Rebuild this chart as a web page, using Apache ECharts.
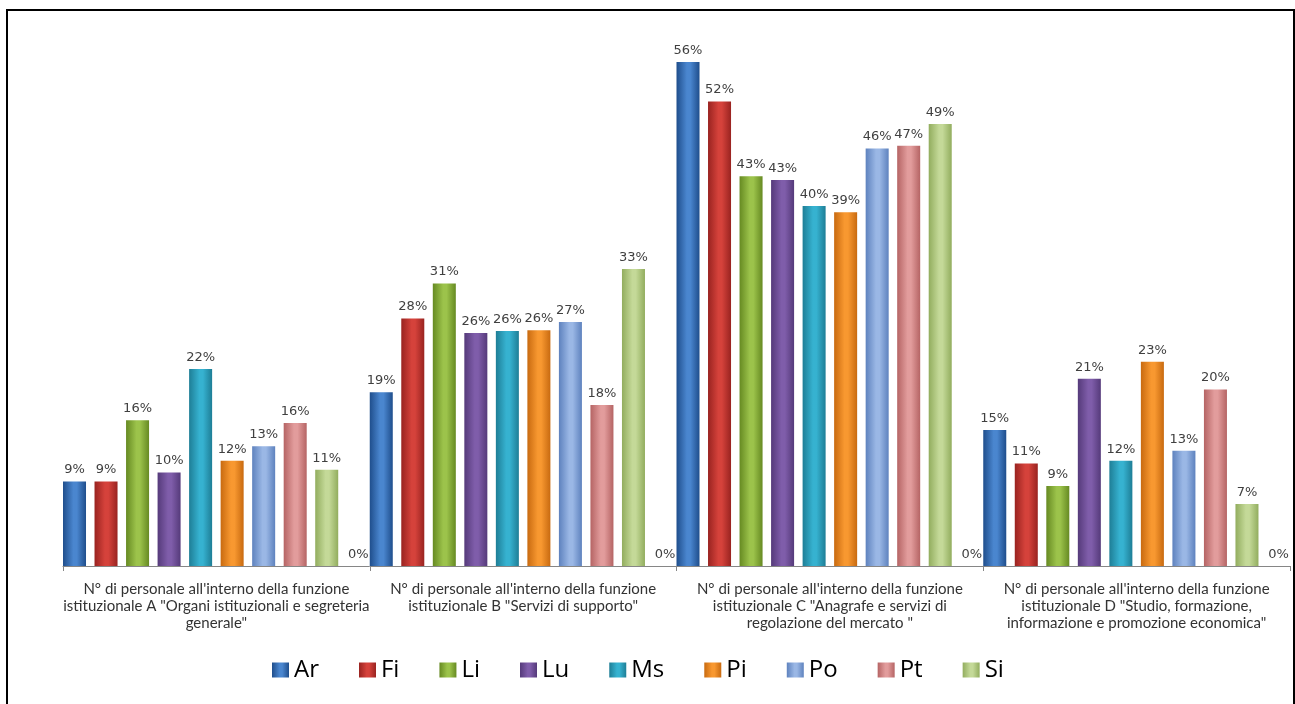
<!DOCTYPE html>
<html>
<head>
<meta charset="utf-8">
<script src="https://cdn.jsdelivr.net/npm/echarts@6/dist/echarts.min.js"></script>
<style>
html,body{margin:0;padding:0;background:#fff;}
#chart{width:1295px;height:704px;}
</style>
</head>
<body>
<div id="chart"></div>
<script>
var categories = [
  "N° di personale all'interno della funzione\nistituzionale A \"Organi istituzionali e segreteria\ngenerale\"",
  "N° di personale all'interno della funzione\nistituzionale B \"Servizi di supporto\"",
  "N° di personale all'interno della funzione\nistituzionale C \"Anagrafe e servizi di\nregolazione del mercato \"",
  "N° di personale all'interno della funzione\nistituzionale D \"Studio, formazione,\ninformazione e promozione economica\""
];
var seriesNames = ["Ar", "Fi", "Li", "Lu", "Ms", "Pi", "Po", "Pt", "Si"];
var Ar = [9.4, 19.3, 56.0, 15.1];
var Fi = [9.4, 27.5, 51.6, 11.4];
var Li = [16.2, 31.4, 43.3, 8.9];
var Lu = [10.4, 25.9, 42.9, 20.8];
var Ms = [21.9, 26.1, 40.0, 11.7];
var Pi = [11.7, 26.2, 39.3, 22.7];
var Po = [13.3, 27.1, 46.4, 12.8];
var Pt = [15.9, 17.9, 46.7, 19.6];
var Si = [10.7, 33.0, 49.1, 6.9];
var Blank = [0, 0, 0, 0];
var seriesValues = [Ar, Fi, Li, Lu, Ms, Pi, Po, Pt, Si];

var palette = [
  ["#1F4E8C", "#4A86CF"],
  ["#992320", "#D5423B"],
  ["#668A22", "#9CC34B"],
  ["#553A7A", "#7F5DAA"],
  ["#1E7E96", "#36B2D0"],
  ["#C86A10", "#F89830"],
  ["#5E82BE", "#9AB7E5"],
  ["#B56464", "#E29C9C"],
  ["#92AD5E", "#C4D998"]
];

function grad(c) {
  return new echarts.graphic.LinearGradient(0, 0, 1, 0, [
    {offset: 0, color: c[0]},
    {offset: 0.45, color: c[1]},
    {offset: 0.6, color: c[1]},
    {offset: 1, color: c[0]}
  ]);
}

var labelStyle = {
  show: true,
  position: 'top',
  distance: 5,
  color: '#404040',
  fontFamily: 'DejaVu Sans',
  fontSize: 13,
  formatter: function (p) { return Math.round(p.value) + '%'; }
};

var series = seriesNames.map(function (n, i) {
  return {
    name: n,
    type: 'bar',
    data: seriesValues[i],
    barGap: '37%',
    barCategoryGap: '0%',
    itemStyle: {color: grad(palette[i])},
    label: labelStyle,
    emphasis: {disabled: true}
  };
});
series.push({
  name: 'blank',
  type: 'bar',
  data: Blank,
  barGap: '37%',
  barCategoryGap: '0%',
  itemStyle: {color: '#ffffff'},
  label: labelStyle,
  emphasis: {disabled: true}
});

var chart = echarts.init(document.getElementById('chart'), null, {renderer: 'canvas'});
chart.setOption({
  backgroundColor: '#ffffff',
  animation: false,
  grid: {left: 63, right: 5, top: 26, bottom: 138},
  legend: {
    data: seriesNames,
    left: 267,
    top: 653,
    itemWidth: 17,
    itemHeight: 15,
    itemGap: 40,
    textStyle: {fontFamily: 'Open Sans', fontSize: 24, color: '#000'},
    icon: 'rect'
  },
  xAxis: {
    type: 'category',
    data: categories,
    axisLine: {lineStyle: {color: '#868686', width: 1}},
    axisTick: {show: true, length: 5, lineStyle: {color: '#868686'}},
    axisLabel: {
      interval: 0,
      margin: 15,
      color: '#333333',
      fontFamily: 'Lato',
      fontSize: 15,
      lineHeight: 17
    }
  },
  yAxis: {
    type: 'value',
    min: 0,
    max: 60,
    show: false,
    splitLine: {show: false}
  },
  graphic: [{
    type: 'rect',
    shape: {x: 7, y: 10, width: 1287, height: 700},
    style: {fill: null, stroke: '#000', lineWidth: 2},
    silent: true
  }],
  series: series
});
</script>
</body>
</html>
